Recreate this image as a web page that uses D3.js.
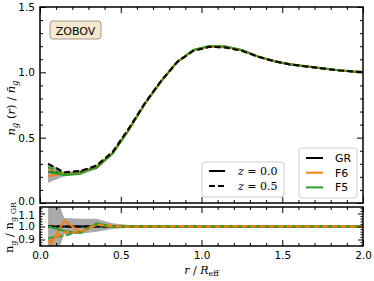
<!DOCTYPE html>
<html>
<head>
<meta charset="utf-8">
<script src="https://cdn.jsdelivr.net/npm/d3@7"></script>
<style>
  html, body { margin: 0; padding: 0; background: #fff; }
  svg { display: block; }
  .tick text { font-family: "DejaVu Sans", sans-serif; font-size: 10.5px; fill: #000; }
</style>
</head>
<body>
<svg id="chart" width="374" height="281"></svg>
<script>
/* ── Data ──────────────────────────────────────────────────── */
const rVals = [0.05, 0.15, 0.25, 0.35, 0.45, 0.55, 0.65, 0.75, 0.85, 0.95, 1.05,
               1.15, 1.25, 1.35, 1.45, 1.55, 1.65, 1.75, 1.85, 1.95, 2.05];

// main panel: n_g(r) / mean n_g
const grZ0  = [0.24, 0.22, 0.235, 0.27, 0.38, 0.56, 0.76, 0.93, 1.08, 1.17, 1.20,
               1.195, 1.17, 1.12, 1.085, 1.06, 1.045, 1.03, 1.015, 1.005, 1.0];
const grZ05 = [0.30, 0.235, 0.245, 0.285, 0.39, 0.57, 0.765, 0.935, 1.08, 1.165, 1.195,
               1.19, 1.165, 1.12, 1.085, 1.06, 1.045, 1.03, 1.015, 1.005, 1.0];
const f6Z0  = [0.205, 0.23, 0.225, 0.275, 0.38, 0.56, 0.76, 0.93, 1.08, 1.17, 1.20,
               1.195, 1.17, 1.12, 1.087, 1.062, 1.046, 1.031, 1.016, 1.006, 1.001];
const f5Z0  = [0.24, 0.212, 0.223, 0.277, 0.38, 0.56, 0.762, 0.932, 1.082, 1.172, 1.202,
               1.197, 1.172, 1.122, 1.087, 1.061, 1.046, 1.031, 1.016, 1.006, 1.0];
const f6Z05 = [0.265, 0.225, 0.235, 0.29, 0.392, 0.569, 0.765, 0.935, 1.081, 1.165, 1.195,
               1.19, 1.167, 1.12, 1.085, 1.061, 1.045, 1.03, 1.015, 1.005, 1.0];
const f5Z05 = [0.275, 0.22, 0.238, 0.288, 0.39, 0.57, 0.765, 0.935, 1.08, 1.165, 1.195,
               1.19, 1.165, 1.12, 1.085, 1.06, 1.045, 1.03, 1.015, 1.005, 1.0];
const bandLo = [0.155, 0.205, 0.222, 0.258, 0.372, 0.553, 0.755, 0.925, 1.075, 1.165, 1.195,
                1.19, 1.165, 1.115, 1.082, 1.057, 1.042, 1.027, 1.012, 1.002, 0.997];
const bandHi = [0.31, 0.235, 0.25, 0.285, 0.39, 0.567, 0.765, 0.935, 1.085, 1.175, 1.205,
                1.2, 1.175, 1.125, 1.09, 1.065, 1.05, 1.035, 1.02, 1.01, 1.004];

// lower panel: ratio to GR
const ratGR   = [1, 1, 1, 1, 1, 1, 1, 1, 1, 1, 1, 1, 1, 1, 1, 1, 1, 1, 1, 1, 1];
const ratF6Z0 = [0.83, 1.045, 0.958, 1.02, 0.995, 1.002, 1.0, 1.0, 1.002, 1.0, 1.001,
                 1.0, 1.002, 1.0, 1.003, 1.001, 1.002, 1.0, 1.001, 1.0, 1.0];
const ratF5Z0 = [1.0, 0.965, 0.95, 1.025, 1.0, 1.0, 1.002, 1.001, 1.002, 1.002, 1.001,
                 1.002, 1.002, 1.002, 1.0, 1.0, 1.0, 1.0, 1.0, 1.0, 1.0];
const ratF6Z05 = [0.88, 0.955, 0.955, 1.015, 1.005, 0.998, 1.0, 1.0, 1.002, 1.0, 1.0,
                  1.0, 1.003, 1.0, 1.0, 1.001, 1.0, 1.0, 1.0, 1.0, 1.0];
const ratF5Z05 = [0.91, 0.93, 0.962, 1.01, 1.0, 1.0, 1.0, 1.0, 1.0, 1.0, 1.0,
                  1.0, 1.0, 1.0, 1.0, 1.0, 1.0, 1.0, 1.0, 1.0, 1.0];
const ratBandLo = [0.6, 0.94, 0.945, 0.96, 0.98, 0.99, 0.992, 0.994, 0.995, 0.995, 0.996,
                   0.996, 0.996, 0.996, 0.996, 0.996, 0.996, 0.996, 0.996, 0.996, 0.996];
const ratBandHi = [1.4, 1.065, 1.06, 1.06, 1.025, 1.012, 1.008, 1.006, 1.005, 1.005, 1.004,
                   1.004, 1.004, 1.004, 1.004, 1.004, 1.004, 1.004, 1.004, 1.004, 1.004];

const xMajor = [0, 0.5, 1.0, 1.5, 2.0];
const yMainMajor = [0, 0.5, 1.0, 1.5];
const yLowMajor = [0.9, 1.0, 1.1];

/* ── Layout ────────────────────────────────────────────────── */
const svg = d3.select('#chart');
const L = 40, R = 363;
const mainTop = 7, mainBot = 203;
const lowTop = 207, lowBot = 246;

const x = d3.scaleLinear().domain([0, 2]).range([L, R]);
const yMain = d3.scaleLinear().domain([0, 1.5]).range([mainBot, mainTop]);
const yLow = d3.scaleLinear().domain([0.85, 1.15]).range([lowBot, lowTop]);

const ORANGE = '#ff7f0e', GREEN = '#2ca02c', BLACK = '#000';

const defs = svg.append('defs');
defs.append('clipPath').attr('id', 'clipMain').append('rect')
  .attr('x', L).attr('y', mainTop).attr('width', R - L).attr('height', mainBot - mainTop);
defs.append('clipPath').attr('id', 'clipLow').append('rect')
  .attr('x', L).attr('y', lowTop).attr('width', R - L).attr('height', lowBot - lowTop);

function range(a, b, step) {
  const out = [];
  for (let v = a; v <= b + 1e-9; v += step) out.push(+v.toFixed(3));
  return out;
}

/* ── Panels ────────────────────────────────────────────────── */
function drawPanel(y, clipId, band, series) {
  const g = svg.append('g').attr('clip-path', `url(#${clipId})`);
  const area = d3.area()
    .x((d, i) => x(rVals[i]))
    .y0((d, i) => y(band[0][i]))
    .y1((d, i) => y(band[1][i]));
  g.append('path').datum(rVals).attr('d', area)
    .attr('fill', '#8c8c8c').attr('opacity', 0.75);

  series.forEach(s => {
    const line = d3.line().x((d, i) => x(rVals[i])).y(d => y(d));
    g.append('path').datum(s.data).attr('d', line)
      .attr('fill', 'none')
      .attr('stroke', s.color)
      .attr('stroke-width', 2)
      .attr('stroke-dasharray', s.dash ? '6,3' : null);
  });
}

drawPanel(yMain, 'clipMain', [bandLo, bandHi], [
  { data: grZ0,  color: BLACK },
  { data: f6Z0,  color: ORANGE },
  { data: f5Z0,  color: GREEN },
  { data: f6Z05, color: ORANGE, dash: true },
  { data: f5Z05, color: GREEN, dash: true },
  { data: grZ05, color: BLACK, dash: true },
]);

drawPanel(yLow, 'clipLow', [ratBandLo, ratBandHi], [
  { data: ratGR,    color: BLACK },
  { data: ratGR,    color: BLACK, dash: true },
  { data: ratF6Z0,  color: ORANGE },
  { data: ratF5Z0,  color: GREEN },
  { data: ratF5Z05, color: GREEN, dash: true },
  { data: ratF6Z05, color: ORANGE, dash: true },
]);

/* ── Axes (ticks inward, all sides) ────────────────────────── */
function ticks(axisFn, scale, values, size, labels, translate) {
  const ax = axisFn(scale).tickValues(values).tickSize(-size).tickSizeOuter(0)
    .tickPadding(labels ? 5 : 0);
  if (!labels) ax.tickFormat('');
  else ax.tickFormat(d3.format('.1f'));
  const g = svg.append('g').attr('transform', translate).call(ax);
  g.select('.domain').remove();
  g.selectAll('.tick line').attr('stroke', '#000').attr('stroke-width', 1);
  return g;
}

const xMinor = range(0, 2, 0.1).filter(v => !xMajor.includes(v));
const yMainMinor = range(0, 1.5, 0.1).filter(v => !yMainMajor.includes(v));
const yLowMinor = range(0.86, 1.14, 0.02).filter(v => !yLowMajor.includes(v));

// main panel
ticks(d3.axisBottom, x, xMajor, 6, false, `translate(0,${mainBot})`);
ticks(d3.axisBottom, x, xMinor, 3, false, `translate(0,${mainBot})`);
ticks(d3.axisTop, x, xMajor, 6, false, `translate(0,${mainTop})`);
ticks(d3.axisTop, x, xMinor, 3, false, `translate(0,${mainTop})`);
const ym = ticks(d3.axisLeft, yMain, yMainMajor, 6, true, `translate(${L},0)`);
ym.selectAll('.tick text').filter(d => d === 0).attr('dy', '0.1em');
ticks(d3.axisLeft, yMain, yMainMinor, 3, false, `translate(${L},0)`);
ticks(d3.axisRight, yMain, yMainMajor, 6, false, `translate(${R},0)`);
ticks(d3.axisRight, yMain, yMainMinor, 3, false, `translate(${R},0)`);

// lower panel
const xl = ticks(d3.axisBottom, x, xMajor, 6, true, `translate(0,${lowBot})`);
xl.selectAll('.tick text').attr('dy', '0.75em');
ticks(d3.axisBottom, x, xMinor, 3, false, `translate(0,${lowBot})`);
ticks(d3.axisTop, x, xMajor, 6, false, `translate(0,${lowTop})`);
ticks(d3.axisTop, x, xMinor, 3, false, `translate(0,${lowTop})`);
const yl = ticks(d3.axisLeft, yLow, yLowMajor, 5, true, `translate(${L},0)`);
yl.selectAll('.tick text').filter(d => d === 1.1).attr('dy', '0.45em');
ticks(d3.axisLeft, yLow, yLowMinor, 2.5, false, `translate(${L},0)`);
ticks(d3.axisRight, yLow, yLowMajor, 5, false, `translate(${R},0)`);
ticks(d3.axisRight, yLow, yLowMinor, 2.5, false, `translate(${R},0)`);

// frames
[[mainTop, mainBot], [lowTop, lowBot]].forEach(([t, b]) => {
  svg.append('rect').attr('x', L).attr('y', t).attr('width', R - L).attr('height', b - t)
    .attr('fill', 'none').attr('stroke', '#000').attr('stroke-width', 1.5);
});

/* ── Labels ────────────────────────────────────────────────── */
const serif = '"DejaVu Serif", serif';

const xlab = svg.append('text').attr('x', x(1.0)).attr('y', 274)
  .attr('text-anchor', 'middle').attr('font-family', serif).attr('font-size', 11);
xlab.append('tspan').attr('font-style', 'italic').text('r');
xlab.append('tspan').text(' / ');
xlab.append('tspan').attr('font-style', 'italic').text('R');
xlab.append('tspan').attr('font-size', 8).attr('dy', 2).text('eff');

const ylab = svg.append('text')
  .attr('transform', `translate(15,${(mainTop + mainBot) / 2 + 3}) rotate(-90)`)
  .attr('text-anchor', 'middle').attr('font-family', serif).attr('font-size', 11.5);
ylab.append('tspan').attr('font-style', 'italic').text('n');
ylab.append('tspan').attr('font-style', 'italic').attr('font-size', 8.5).attr('dy', 3).text('g');
ylab.append('tspan').attr('dy', -3).text(' (');
ylab.append('tspan').attr('font-style', 'italic').text('r');
ylab.append('tspan').text(') / ');
ylab.append('tspan').attr('font-style', 'italic').text('n\u0304');
ylab.append('tspan').attr('font-style', 'italic').attr('font-size', 8.5).attr('dy', 3).text('g');

const ylab2 = svg.append('text')
  .attr('transform', `translate(13,${(lowTop + lowBot) / 2 + 1}) rotate(-90)`)
  .attr('text-anchor', 'middle').attr('font-family', serif).attr('font-size', 11.5);
ylab2.append('tspan').text('n');
ylab2.append('tspan').attr('font-size', 8).attr('dy', 2.5).text('g');
ylab2.append('tspan').attr('dy', -2.5).text(' / n');
ylab2.append('tspan').attr('font-size', 8).attr('dy', 2.5).text('g GR');

// ZOBOV box
svg.append('rect').attr('x', 50).attr('y', 21).attr('width', 51).attr('height', 18)
  .attr('rx', 3).attr('fill', '#f7e7cf').attr('stroke', '#a09a90').attr('stroke-width', 1);
svg.append('text').attr('x', 75.5).attr('y', 34.5).attr('text-anchor', 'middle')
  .attr('font-family', '"DejaVu Sans", sans-serif').attr('font-size', 11).text('ZOBOV');

/* ── Legends ───────────────────────────────────────────────── */
const zLegend = [
  { label: '0.0', dash: false },
  { label: '0.5', dash: true },
];
const modelLegend = [
  { label: 'GR', color: BLACK },
  { label: 'F6', color: ORANGE },
  { label: 'F5', color: GREEN },
];

svg.append('rect').attr('x', 202).attr('y', 162).attr('width', 82).attr('height', 35)
  .attr('rx', 3).attr('fill', '#fff').attr('fill-opacity', 0.8)
  .attr('stroke', '#ccc').attr('stroke-width', 1);
zLegend.forEach((d, i) => {
  const yy = 171 + i * 15;
  svg.append('line').attr('x1', 209).attr('x2', 225).attr('y1', yy).attr('y2', yy)
    .attr('stroke', '#000').attr('stroke-width', 2)
    .attr('stroke-dasharray', d.dash ? '6,3' : null);
  const t = svg.append('text').attr('x', 238).attr('y', yy + 4)
    .attr('font-family', serif).attr('font-size', 11);
  t.append('tspan').attr('font-style', 'italic').text('z');
  t.append('tspan').text(' = ' + d.label);
});

svg.append('rect').attr('x', 299).attr('y', 148).attr('width', 58).attr('height', 50)
  .attr('rx', 3).attr('fill', '#fff').attr('fill-opacity', 0.8)
  .attr('stroke', '#ccc').attr('stroke-width', 1);
modelLegend.forEach((d, i) => {
  const yy = 158 + i * 14.7;
  svg.append('line').attr('x1', 306).attr('x2', 323).attr('y1', yy).attr('y2', yy)
    .attr('stroke', d.color).attr('stroke-width', 2);
  svg.append('text').attr('x', 335).attr('y', yy + 4)
    .attr('font-family', '"DejaVu Sans", sans-serif').attr('font-size', 11).text(d.label);
});
</script>
</body>
</html>
